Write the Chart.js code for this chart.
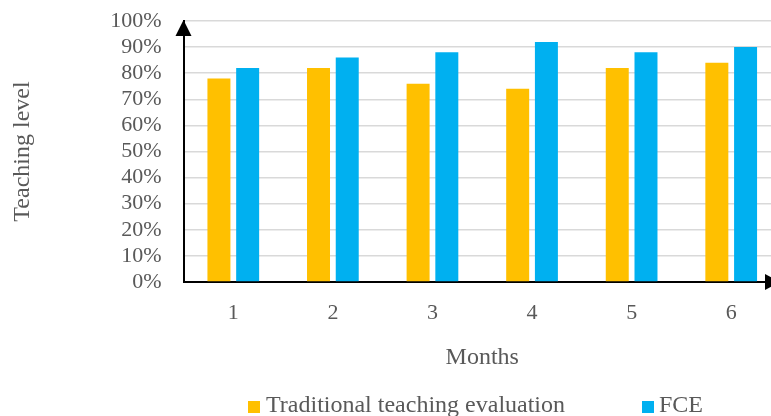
<!DOCTYPE html>
<html>
<head>
<meta charset="utf-8">
<script src="https://cdn.jsdelivr.net/npm/chart.js@4"></script>
<style>
  html, body { margin: 0; padding: 0; background: #fff; overflow: hidden; }
  #wrap { position: relative; width: 790px; height: 416px; }
  .leg { position: absolute; top: 392px; font: 24px "Liberation Serif", "Times New Roman", serif; color: #595959; line-height: 24px; white-space: nowrap; }
  .sw { position: absolute; top: 401px; width: 12px; height: 12px; }
</style>
</head>
<body>
<div id="wrap">
  <canvas id="chart-bars"></canvas>
  <span class="sw" style="left:248px;background:#FFC000"></span>
  <span class="leg" style="left:266px">Traditional teaching evaluation</span>
  <span class="sw" style="left:642px;background:#00B0F0"></span>
  <span class="leg" style="left:659px">FCE</span>
</div>
<script>
// data
var months = ["1", "2", "3", "4", "5", "6"];
var traditional = [0.78, 0.82, 0.76, 0.74, 0.82, 0.84];
var fce = [0.82, 0.86, 0.88, 0.92, 0.88, 0.90];
var yTicks = [0, 0.1, 0.2, 0.3, 0.4, 0.5, 0.6, 0.7, 0.8, 0.9, 1.0];

var serif = "Liberation Serif";

// arrow heads on the two axis lines
var axisArrows = {
  id: "axisArrows",
  afterDraw: function (chart) {
    var c = chart.ctx, a = chart.chartArea;
    c.save();
    c.fillStyle = "#000";
    c.beginPath();
    c.moveTo(a.left, a.top - 1);
    c.lineTo(a.left - 8, a.top + 15);
    c.lineTo(a.left + 8, a.top + 15);
    c.closePath();
    c.fill();
    c.beginPath();
    c.moveTo(a.right - 1, a.bottom);
    c.lineTo(a.right - 16, a.bottom - 8);
    c.lineTo(a.right - 16, a.bottom + 8);
    c.closePath();
    c.fill();
    c.restore();
  }
};

var ctx = document.getElementById("chart-bars").getContext("2d");

new Chart(ctx, {
  type: "bar",
  data: {
    labels: months,
    datasets: [
      {
        label: "Traditional teaching evaluation",
        backgroundColor: "#FFC000",
        borderWidth: 0,
        data: traditional,
        barPercentage: 0.8,
        categoryPercentage: 0.577,
      },
      {
        label: "FCE",
        backgroundColor: "#00B0F0",
        borderWidth: 0,
        data: fce,
        barPercentage: 0.8,
        categoryPercentage: 0.577,
      },
    ],
  },
  options: {
    responsive: true,
    maintainAspectRatio: false,
    animation: false,
    layout: {
      padding: { top: 21, right: 9, bottom: 40, left: 0 },
    },
    plugins: {
      legend: { display: false },
      tooltip: { enabled: false },
    },
    scales: {
      y: {
        min: 0,
        max: 1,
        afterFit: function (scale) {
          scale.width = 183.5;
          scale.paddingTop = 0;
          scale.paddingBottom = 0;
        },
        afterBuildTicks: function (scale) {
          scale.ticks = yTicks.map(function (v) { return { value: v }; });
        },
        grid: {
          drawTicks: false,
          color: function (c) { return c.index === 0 ? "rgba(0,0,0,0)" : "#d9d9d9"; },
          lineWidth: 1.5,
        },
        border: { display: true, color: "#000", width: 2 },
        ticks: {
          autoSkip: false,
          padding: 22,
          color: "#595959",
          font: { size: 22, family: serif },
          callback: function (v) { return Math.round(v * 100) + "%"; },
        },
        title: {
          display: true,
          text: "Teaching level",
          color: "#595959",
          font: { size: 24, family: serif },
          padding: { top: 8, bottom: 0 },
        },
      },
      x: {
        afterFit: function (scale) { scale.height = 94; },
        grid: { display: false, drawTicks: false },
        border: { display: true, color: "#000", width: 2 },
        ticks: {
          padding: 18,
          color: "#595959",
          font: { size: 22, family: serif },
        },
        title: {
          display: true,
          text: "Months",
          color: "#595959",
          font: { size: 24, family: serif },
          padding: { top: 0, bottom: 4 },
        },
      },
    },
  },
  plugins: [axisArrows],
});
</script>
</body>
</html>
